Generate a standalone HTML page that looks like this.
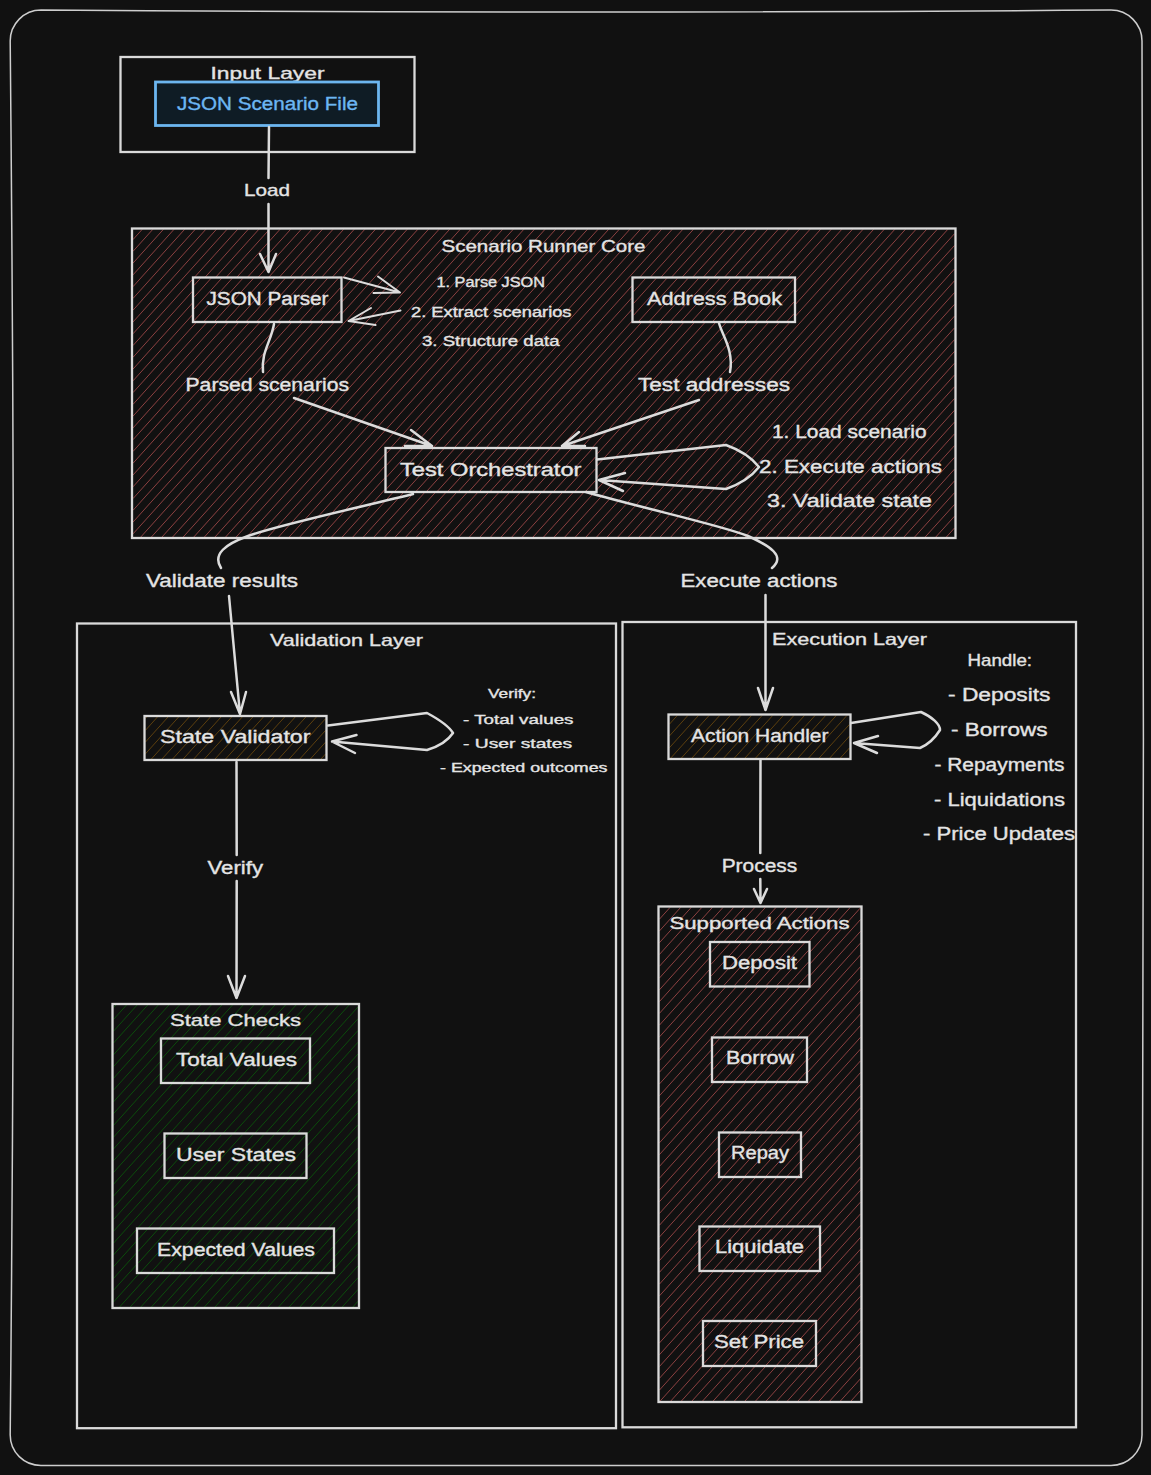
<!DOCTYPE html>
<html><head><meta charset="utf-8">
<style>
html,body{margin:0;padding:0;background:#111111;width:1151px;height:1475px;overflow:hidden}
svg{display:block}
text{font-family:"Liberation Sans",sans-serif;fill:#e4e4e4;stroke:#e4e4e4;stroke-width:0.35}
.s{fill:none;stroke:#dcdcdc;stroke-width:2.5;stroke-linecap:round;stroke-linejoin:round}
.bx{stroke:#dadada;stroke-width:2.3}
</style></head>
<body>
<svg width="1151" height="1475" viewBox="0 0 1151 1475">
<!-- outer frame -->
<path d="M41 10 Q576 14 1111 10 C1128 10 1142 24 1142 41 Q1144.8 738 1142 1435 C1142 1452 1128 1465.5 1111 1465.5 L41 1465.5 C24 1465.5 10.2 1452 10.2 1435 Q17 738 10.2 41 C10.2 24 24 10 41 10 Z" fill="none" stroke="#cecece" stroke-width="1.5"/>

<!-- Input Layer -->
<rect class="bx" x="120.5" y="57" width="294" height="95" fill="#111111"/>
<text x="210.5" y="79" font-size="17" textLength="114" lengthAdjust="spacingAndGlyphs">Input Layer</text>
<rect x="155.5" y="82" width="223" height="43.5" fill="#0f1c25" stroke="#6cb6f0" stroke-width="2.8"/>
<text x="177" y="109.5" font-size="18" textLength="181" lengthAdjust="spacingAndGlyphs" style="fill:#6cb6f2;stroke:#6cb6f2">JSON Scenario File</text>

<!-- Load edge -->
<path class="s" d="M269 127 L268.5 178"/>
<text x="244" y="196" font-size="17" textLength="46" lengthAdjust="spacingAndGlyphs">Load</text>

<!-- Scenario Runner Core -->
<rect x="132.0" y="228.5" width="823.5" height="309.5" fill="#111111"/><path d="M133.00 239.58L142.07 229.50M133.00 251.35L152.67 229.50M133.00 263.12L163.27 229.50M133.00 274.90L173.87 229.50M133.00 286.67L184.47 229.50M133.00 298.44L195.07 229.50M133.00 310.21L205.67 229.50M133.00 321.99L216.27 229.50M133.00 333.76L226.87 229.50M133.00 345.53L237.47 229.50M133.00 357.30L248.07 229.50M133.00 369.08L258.67 229.50M133.00 380.85L269.27 229.50M133.00 392.62L279.87 229.50M133.00 404.39L290.47 229.50M133.00 416.17L301.07 229.50M133.00 427.94L311.67 229.50M133.00 439.71L322.27 229.50M133.00 451.48L332.87 229.50M133.00 463.26L343.47 229.50M133.00 475.03L354.07 229.50M133.00 486.80L364.67 229.50M133.00 498.57L375.27 229.50M133.00 510.35L385.87 229.50M133.00 522.12L396.47 229.50M133.00 533.89L407.07 229.50M140.80 537.00L417.67 229.50M151.40 537.00L428.27 229.50M162.00 537.00L438.87 229.50M172.60 537.00L449.47 229.50M183.20 537.00L460.07 229.50M193.80 537.00L470.67 229.50M204.40 537.00L481.27 229.50M215.00 537.00L491.87 229.50M225.60 537.00L502.47 229.50M236.20 537.00L513.07 229.50M246.80 537.00L523.67 229.50M257.40 537.00L534.27 229.50M268.00 537.00L544.87 229.50M278.60 537.00L555.47 229.50M289.20 537.00L566.07 229.50M299.80 537.00L576.67 229.50M310.40 537.00L587.27 229.50M321.00 537.00L597.87 229.50M331.60 537.00L608.47 229.50M342.20 537.00L619.07 229.50M352.80 537.00L629.67 229.50M363.40 537.00L640.27 229.50M374.00 537.00L650.87 229.50M384.60 537.00L661.47 229.50M395.20 537.00L672.07 229.50M405.80 537.00L682.67 229.50M416.40 537.00L693.27 229.50M427.00 537.00L703.87 229.50M437.60 537.00L714.47 229.50M448.20 537.00L725.07 229.50M458.80 537.00L735.67 229.50M469.40 537.00L746.27 229.50M480.00 537.00L756.87 229.50M490.60 537.00L767.47 229.50M501.20 537.00L778.07 229.50M511.80 537.00L788.67 229.50M522.40 537.00L799.27 229.50M533.00 537.00L809.87 229.50M543.60 537.00L820.47 229.50M554.20 537.00L831.07 229.50M564.80 537.00L841.67 229.50M575.40 537.00L852.27 229.50M586.00 537.00L862.87 229.50M596.60 537.00L873.47 229.50M607.20 537.00L884.07 229.50M617.80 537.00L894.67 229.50M628.40 537.00L905.27 229.50M639.00 537.00L915.87 229.50M649.60 537.00L926.47 229.50M660.20 537.00L937.07 229.50M670.80 537.00L947.67 229.50M681.40 537.00L954.50 233.69M692.00 537.00L954.50 245.46M702.60 537.00L954.50 257.24M713.20 537.00L954.50 269.01M723.80 537.00L954.50 280.78M734.40 537.00L954.50 292.55M745.00 537.00L954.50 304.33M755.60 537.00L954.50 316.10M766.20 537.00L954.50 327.87M776.80 537.00L954.50 339.64M787.40 537.00L954.50 351.42M798.00 537.00L954.50 363.19M808.60 537.00L954.50 374.96M819.20 537.00L954.50 386.73M829.80 537.00L954.50 398.51M840.40 537.00L954.50 410.28M851.00 537.00L954.50 422.05M861.60 537.00L954.50 433.82M872.20 537.00L954.50 445.60M882.80 537.00L954.50 457.37M893.40 537.00L954.50 469.14M904.00 537.00L954.50 480.91M914.60 537.00L954.50 492.69M925.20 537.00L954.50 504.46M935.80 537.00L954.50 516.23M946.40 537.00L954.50 528.00" stroke="#8c4141" stroke-width="1.0" fill="none"/><rect class="bx" x="132" y="228.5" width="823.5" height="309.5" fill="none"/>
<path class="s" d="M268.5 204 L268.5 271 M260 254 L268.5 272 L276 254"/>
<text x="441.5" y="251.5" font-size="17" textLength="204" lengthAdjust="spacingAndGlyphs">Scenario Runner Core</text>

<rect x="193.0" y="277.5" width="148.5" height="44.5" fill="#111111"/><path d="M194.00 285.46L200.27 278.50M194.00 297.23L210.87 278.50M194.00 309.01L221.47 278.50M194.00 320.78L232.07 278.50M204.40 321.00L242.67 278.50M215.00 321.00L253.27 278.50M225.60 321.00L263.87 278.50M236.20 321.00L274.47 278.50M246.80 321.00L285.07 278.50M257.40 321.00L295.67 278.50M268.00 321.00L306.27 278.50M278.60 321.00L316.87 278.50M289.20 321.00L327.47 278.50M299.80 321.00L338.07 278.50M310.40 321.00L340.50 287.57M321.00 321.00L340.50 299.34M331.60 321.00L340.50 311.12" stroke="#8c4141" stroke-width="1.0" fill="none"/><rect class="bx" x="193" y="277.5" width="148.5" height="44.5" fill="none"/>
<text x="206.5" y="305" font-size="18" textLength="122" lengthAdjust="spacingAndGlyphs">JSON Parser</text>

<rect x="632.5" y="277.5" width="162.5" height="44.5" fill="#111111"/><path d="M633.50 280.02L634.87 278.50M633.50 291.79L645.47 278.50M633.50 303.56L656.07 278.50M633.50 315.34L666.67 278.50M639.00 321.00L677.27 278.50M649.60 321.00L687.87 278.50M660.20 321.00L698.47 278.50M670.80 321.00L709.07 278.50M681.40 321.00L719.67 278.50M692.00 321.00L730.27 278.50M702.60 321.00L740.87 278.50M713.20 321.00L751.47 278.50M723.80 321.00L762.07 278.50M734.40 321.00L772.67 278.50M745.00 321.00L783.27 278.50M755.60 321.00L793.87 278.50M766.20 321.00L794.00 290.12M776.80 321.00L794.00 301.90M787.40 321.00L794.00 313.67" stroke="#8c4141" stroke-width="1.0" fill="none"/><rect class="bx" x="632.5" y="277.5" width="162.5" height="44.5" fill="none"/>
<text x="647" y="305" font-size="18" textLength="135" lengthAdjust="spacingAndGlyphs">Address Book</text>

<text x="436.5" y="287" font-size="14" textLength="108.5" lengthAdjust="spacingAndGlyphs">1. Parse JSON</text>
<text x="411" y="316.5" font-size="14" textLength="160.5" lengthAdjust="spacingAndGlyphs">2. Extract scenarios</text>
<text x="422" y="346" font-size="14" textLength="137.5" lengthAdjust="spacingAndGlyphs">3. Structure data</text>

<path class="s" style="stroke-width:2" d="M344 277.5 L400 292.5 M378 276.5 L400 292.5 L373.5 293"/>
<path class="s" style="stroke-width:2" d="M400.5 310.5 L348.5 321 M371 308 L348.5 321 L375.5 325"/>

<!-- Parsed scenarios edge -->
<path class="s" d="M274 324 C271 342 261 352 263 372"/>
<text x="185.5" y="390.5" font-size="18" textLength="163.5" lengthAdjust="spacingAndGlyphs">Parsed scenarios</text>
<path class="s" d="M294 398 L432 446 M411 430 L432 446 L405 446"/>

<!-- Test addresses edge -->
<path class="s" d="M719 323 C722 335 734 350 730 372"/>
<text x="638" y="390.5" font-size="18" textLength="152" lengthAdjust="spacingAndGlyphs">Test addresses</text>
<path class="s" d="M699 400 L562 446 M579 432 L562 446 L585 446"/>

<!-- Test Orchestrator -->
<rect x="385.5" y="448.0" width="211.0" height="44.0" fill="#111111"/><path d="M386.50 453.57L390.62 449.00M386.50 465.34L401.22 449.00M386.50 477.12L411.82 449.00M386.50 488.89L422.42 449.00M395.20 491.00L433.02 449.00M405.80 491.00L443.62 449.00M416.40 491.00L454.22 449.00M427.00 491.00L464.82 449.00M437.60 491.00L475.42 449.00M448.20 491.00L486.02 449.00M458.80 491.00L496.62 449.00M469.40 491.00L507.22 449.00M480.00 491.00L517.82 449.00M490.60 491.00L528.42 449.00M501.20 491.00L539.02 449.00M511.80 491.00L549.62 449.00M522.40 491.00L560.22 449.00M533.00 491.00L570.82 449.00M543.60 491.00L581.42 449.00M554.20 491.00L592.02 449.00M564.80 491.00L595.50 456.90M575.40 491.00L595.50 468.68M586.00 491.00L595.50 480.45" stroke="#8c4141" stroke-width="1.0" fill="none"/><rect class="bx" x="385.5" y="448" width="211" height="44" fill="none"/>
<text x="400" y="475.5" font-size="18" textLength="181.5" lengthAdjust="spacingAndGlyphs">Test Orchestrator</text>
<path class="s" d="M597 459.5 L726 445 C740 450 752 458 759 467 C752 476 740 484 726 489 L599 480 M625 473 L599 480 L623 491"/>
<text x="772" y="437.5" font-size="18" textLength="154.5" lengthAdjust="spacingAndGlyphs">1. Load scenario</text>
<text x="759" y="473" font-size="18" textLength="183" lengthAdjust="spacingAndGlyphs">2. Execute actions</text>
<text x="767" y="507" font-size="18" textLength="165" lengthAdjust="spacingAndGlyphs">3. Validate state</text>

<!-- Validate results edge -->
<path class="s" d="M413 494 C340 512 275 526 248 536 C226 544 212 554 221 568"/>
<text x="146" y="587" font-size="18" textLength="152" lengthAdjust="spacingAndGlyphs">Validate results</text>
<path class="s" d="M229 596 L240 714 M231 692 L240 714 L246 692"/>

<!-- Execute actions edge -->
<path class="s" d="M586 492 C650 510 720 525 748 536 C770 546 786 556 772 568"/>
<text x="680.5" y="587" font-size="18" textLength="157" lengthAdjust="spacingAndGlyphs">Execute actions</text>
<path class="s" d="M765.5 595 L765.5 710 M758 688 L765.5 710 L773 688"/>

<!-- Validation Layer -->
<rect class="bx" x="77" y="623.5" width="539" height="804.7" fill="none"/>
<text x="270" y="646" font-size="17" textLength="153" lengthAdjust="spacingAndGlyphs">Validation Layer</text>

<rect x="144.5" y="716.0" width="182.0" height="44.0" fill="#111111"/><path d="M145.50 718.46L146.82 717.00M145.50 730.24L157.42 717.00M145.50 742.01L168.02 717.00M145.50 753.78L178.62 717.00M151.40 759.00L189.22 717.00M162.00 759.00L199.82 717.00M172.60 759.00L210.42 717.00M183.20 759.00L221.02 717.00M193.80 759.00L231.62 717.00M204.40 759.00L242.22 717.00M215.00 759.00L252.82 717.00M225.60 759.00L263.42 717.00M236.20 759.00L274.02 717.00M246.80 759.00L284.62 717.00M257.40 759.00L295.22 717.00M268.00 759.00L305.82 717.00M278.60 759.00L316.42 717.00M289.20 759.00L325.50 718.68M299.80 759.00L325.50 730.46M310.40 759.00L325.50 742.23M321.00 759.00L325.50 754.00" stroke="#5c3f0e" stroke-width="1.0" fill="none"/><rect class="bx" x="144.5" y="716" width="182" height="44" fill="none"/>
<text x="160" y="743" font-size="18" textLength="150.5" lengthAdjust="spacingAndGlyphs">State Validator</text>
<path class="s" d="M328 725.5 L427 713 C440 720 450 728 453 733 C447 742 437 747 427 750 L332 741.5 M356.5 735 L332 741.5 L355 753"/>
<text x="488" y="698" font-size="13" textLength="48" lengthAdjust="spacingAndGlyphs">Verify:</text>
<text x="463" y="723.5" font-size="13" textLength="110.5" lengthAdjust="spacingAndGlyphs">- Total values</text>
<text x="463" y="747.5" font-size="13" textLength="109" lengthAdjust="spacingAndGlyphs">- User states</text>
<text x="440" y="771.5" font-size="13" textLength="167.5" lengthAdjust="spacingAndGlyphs">- Expected outcomes</text>

<path class="s" d="M236.5 762 L236.7 855"/>
<text x="207.5" y="873.5" font-size="18" textLength="55.5" lengthAdjust="spacingAndGlyphs">Verify</text>
<path class="s" d="M236.7 881 L236.5 998 M228 976 L236.5 998 L245 976"/>

<!-- State Checks -->
<rect x="112.5" y="1004.0" width="246.5" height="304.0" fill="#111111"/><path d="M113.50 1007.69L115.92 1005.00M113.50 1019.46L126.52 1005.00M113.50 1031.23L137.12 1005.00M113.50 1043.01L147.72 1005.00M113.50 1054.78L158.32 1005.00M113.50 1066.55L168.92 1005.00M113.50 1078.32L179.52 1005.00M113.50 1090.10L190.12 1005.00M113.50 1101.87L200.72 1005.00M113.50 1113.64L211.32 1005.00M113.50 1125.41L221.92 1005.00M113.50 1137.19L232.52 1005.00M113.50 1148.96L243.12 1005.00M113.50 1160.73L253.72 1005.00M113.50 1172.50L264.32 1005.00M113.50 1184.28L274.92 1005.00M113.50 1196.05L285.52 1005.00M113.50 1207.82L296.12 1005.00M113.50 1219.59L306.72 1005.00M113.50 1231.37L317.32 1005.00M113.50 1243.14L327.92 1005.00M113.50 1254.91L338.52 1005.00M113.50 1266.68L349.12 1005.00M113.50 1278.46L358.00 1006.91M113.50 1290.23L358.00 1018.68M113.50 1302.00L358.00 1030.46M119.60 1307.00L358.00 1042.23M130.20 1307.00L358.00 1054.00M140.80 1307.00L358.00 1065.77M151.40 1307.00L358.00 1077.55M162.00 1307.00L358.00 1089.32M172.60 1307.00L358.00 1101.09M183.20 1307.00L358.00 1112.86M193.80 1307.00L358.00 1124.64M204.40 1307.00L358.00 1136.41M215.00 1307.00L358.00 1148.18M225.60 1307.00L358.00 1159.95M236.20 1307.00L358.00 1171.73M246.80 1307.00L358.00 1183.50M257.40 1307.00L358.00 1195.27M268.00 1307.00L358.00 1207.04M278.60 1307.00L358.00 1218.82M289.20 1307.00L358.00 1230.59M299.80 1307.00L358.00 1242.36M310.40 1307.00L358.00 1254.13M321.00 1307.00L358.00 1265.91M331.60 1307.00L358.00 1277.68M342.20 1307.00L358.00 1289.45M352.80 1307.00L358.00 1301.22" stroke="#0c4c0c" stroke-width="1.0" fill="none"/><rect class="bx" x="112.5" y="1004" width="246.5" height="304" fill="none"/>
<text x="170" y="1026" font-size="17" textLength="131" lengthAdjust="spacingAndGlyphs">State Checks</text>
<rect x="161.0" y="1038.5" width="149.0" height="44.5" fill="#111111"/><path d="M162.00 1046.68L168.47 1039.50M162.00 1058.46L179.07 1039.50M162.00 1070.23L189.67 1039.50M162.00 1082.00L200.27 1039.50M172.60 1082.00L210.87 1039.50M183.20 1082.00L221.47 1039.50M193.80 1082.00L232.07 1039.50M204.40 1082.00L242.67 1039.50M215.00 1082.00L253.27 1039.50M225.60 1082.00L263.87 1039.50M236.20 1082.00L274.47 1039.50M246.80 1082.00L285.07 1039.50M257.40 1082.00L295.67 1039.50M268.00 1082.00L306.27 1039.50M278.60 1082.00L309.00 1048.24M289.20 1082.00L309.00 1060.01M299.80 1082.00L309.00 1071.78" stroke="#0c4c0c" stroke-width="1.0" fill="none"/><rect class="bx" x="161" y="1038.5" width="149" height="44.5" fill="none"/>
<text x="176" y="1066" font-size="18" textLength="121" lengthAdjust="spacingAndGlyphs">Total Values</text>
<rect x="164.5" y="1133.5" width="142.0" height="44.5" fill="#111111"/><path d="M165.50 1137.80L168.47 1134.50M165.50 1149.57L179.07 1134.50M165.50 1161.34L189.67 1134.50M165.50 1173.11L200.27 1134.50M172.60 1177.00L210.87 1134.50M183.20 1177.00L221.47 1134.50M193.80 1177.00L232.07 1134.50M204.40 1177.00L242.67 1134.50M215.00 1177.00L253.27 1134.50M225.60 1177.00L263.87 1134.50M236.20 1177.00L274.47 1134.50M246.80 1177.00L285.07 1134.50M257.40 1177.00L295.67 1134.50M268.00 1177.00L305.50 1135.35M278.60 1177.00L305.50 1147.12M289.20 1177.00L305.50 1158.90M299.80 1177.00L305.50 1170.67" stroke="#0c4c0c" stroke-width="1.0" fill="none"/><rect class="bx" x="164.5" y="1133.5" width="142" height="44.5" fill="none"/>
<text x="176" y="1161" font-size="18" textLength="120" lengthAdjust="spacingAndGlyphs">User States</text>
<rect x="137.0" y="1228.5" width="197.0" height="44.5" fill="#111111"/><path d="M138.00 1239.79L147.27 1229.50M138.00 1251.56L157.87 1229.50M138.00 1263.34L168.47 1229.50M140.80 1272.00L179.07 1229.50M151.40 1272.00L189.67 1229.50M162.00 1272.00L200.27 1229.50M172.60 1272.00L210.87 1229.50M183.20 1272.00L221.47 1229.50M193.80 1272.00L232.07 1229.50M204.40 1272.00L242.67 1229.50M215.00 1272.00L253.27 1229.50M225.60 1272.00L263.87 1229.50M236.20 1272.00L274.47 1229.50M246.80 1272.00L285.07 1229.50M257.40 1272.00L295.67 1229.50M268.00 1272.00L306.27 1229.50M278.60 1272.00L316.87 1229.50M289.20 1272.00L327.47 1229.50M299.80 1272.00L333.00 1235.13M310.40 1272.00L333.00 1246.90M321.00 1272.00L333.00 1258.67M331.60 1272.00L333.00 1270.45" stroke="#0c4c0c" stroke-width="1.0" fill="none"/><rect class="bx" x="137" y="1228.5" width="197" height="44.5" fill="none"/>
<text x="157" y="1256" font-size="18" textLength="158" lengthAdjust="spacingAndGlyphs">Expected Values</text>

<!-- Execution Layer -->
<rect class="bx" x="622.5" y="622" width="453.5" height="805.3" fill="none"/>
<text x="772" y="644.5" font-size="17" textLength="155" lengthAdjust="spacingAndGlyphs">Execution Layer</text>

<rect x="668.5" y="714.5" width="182.0" height="44.5" fill="#111111"/><path d="M669.50 724.13L677.27 715.50M669.50 735.90L687.87 715.50M669.50 747.67L698.47 715.50M670.80 758.00L709.07 715.50M681.40 758.00L719.67 715.50M692.00 758.00L730.27 715.50M702.60 758.00L740.87 715.50M713.20 758.00L751.47 715.50M723.80 758.00L762.07 715.50M734.40 758.00L772.67 715.50M745.00 758.00L783.27 715.50M755.60 758.00L793.87 715.50M766.20 758.00L804.47 715.50M776.80 758.00L815.07 715.50M787.40 758.00L825.67 715.50M798.00 758.00L836.27 715.50M808.60 758.00L846.87 715.50M819.20 758.00L849.50 724.35M829.80 758.00L849.50 736.12M840.40 758.00L849.50 747.89" stroke="#5c3f0e" stroke-width="1.0" fill="none"/><rect class="bx" x="668.5" y="714.5" width="182" height="44.5" fill="none"/>
<text x="691" y="742" font-size="18" textLength="137.5" lengthAdjust="spacingAndGlyphs">Action Handler</text>
<path class="s" d="M851 723 L921 712 C932 717 940 724 940 730 C935 738 927 745 920 748 L854 743 M878 736 L854 743 L877 753"/>

<text x="967.5" y="665.5" font-size="17" textLength="64.5" lengthAdjust="spacingAndGlyphs">Handle:</text>
<text x="948" y="700.5" font-size="18" textLength="102.5" lengthAdjust="spacingAndGlyphs">- Deposits</text>
<text x="951" y="735.5" font-size="18" textLength="96.5" lengthAdjust="spacingAndGlyphs">- Borrows</text>
<text x="934.5" y="770.5" font-size="18" textLength="130" lengthAdjust="spacingAndGlyphs">- Repayments</text>
<text x="934" y="805.5" font-size="18" textLength="131" lengthAdjust="spacingAndGlyphs">- Liquidations</text>
<text x="923" y="840" font-size="18" textLength="152" lengthAdjust="spacingAndGlyphs">- Price Updates</text>

<path class="s" d="M760.5 760 L760.3 853"/>
<text x="721.7" y="872" font-size="18" textLength="75.5" lengthAdjust="spacingAndGlyphs">Process</text>
<path class="s" d="M760.3 879 L760.5 903 M754 889 L760.5 903 L767 889"/>

<!-- Supported Actions -->
<rect x="658.5" y="906.5" width="203.0" height="495.5" fill="#111111"/><path d="M659.50 919.11L669.95 907.50M659.50 930.88L680.55 907.50M659.50 942.65L691.15 907.50M659.50 954.42L701.75 907.50M659.50 966.20L712.35 907.50M659.50 977.97L722.95 907.50M659.50 989.74L733.55 907.50M659.50 1001.51L744.15 907.50M659.50 1013.29L754.75 907.50M659.50 1025.06L765.35 907.50M659.50 1036.83L775.95 907.50M659.50 1048.60L786.55 907.50M659.50 1060.38L797.15 907.50M659.50 1072.15L807.75 907.50M659.50 1083.92L818.35 907.50M659.50 1095.69L828.95 907.50M659.50 1107.47L839.55 907.50M659.50 1119.24L850.15 907.50M659.50 1131.01L860.50 907.78M659.50 1142.78L860.50 919.55M659.50 1154.56L860.50 931.32M659.50 1166.33L860.50 943.09M659.50 1178.10L860.50 954.87M659.50 1189.87L860.50 966.64M659.50 1201.65L860.50 978.41M659.50 1213.42L860.50 990.18M659.50 1225.19L860.50 1001.96M659.50 1236.96L860.50 1013.73M659.50 1248.74L860.50 1025.50M659.50 1260.51L860.50 1037.27M659.50 1272.28L860.50 1049.05M659.50 1284.05L860.50 1060.82M659.50 1295.82L860.50 1072.59M659.50 1307.60L860.50 1084.36M659.50 1319.37L860.50 1096.14M659.50 1331.14L860.50 1107.91M659.50 1342.91L860.50 1119.68M659.50 1354.69L860.50 1131.45M659.50 1366.46L860.50 1143.23M659.50 1378.23L860.50 1155.00M659.50 1390.00L860.50 1166.77M660.20 1401.00L860.50 1178.54M670.80 1401.00L860.50 1190.32M681.40 1401.00L860.50 1202.09M692.00 1401.00L860.50 1213.86M702.60 1401.00L860.50 1225.63M713.20 1401.00L860.50 1237.41M723.80 1401.00L860.50 1249.18M734.40 1401.00L860.50 1260.95M745.00 1401.00L860.50 1272.72M755.60 1401.00L860.50 1284.50M766.20 1401.00L860.50 1296.27M776.80 1401.00L860.50 1308.04M787.40 1401.00L860.50 1319.81M798.00 1401.00L860.50 1331.59M808.60 1401.00L860.50 1343.36M819.20 1401.00L860.50 1355.13M829.80 1401.00L860.50 1366.90M840.40 1401.00L860.50 1378.68M851.00 1401.00L860.50 1390.45" stroke="#8c4141" stroke-width="1.0" fill="none"/><rect class="bx" x="658.5" y="906.5" width="203" height="495.5" fill="none"/>
<text x="669.5" y="929" font-size="17" textLength="180" lengthAdjust="spacingAndGlyphs">Supported Actions</text>
<rect x="710.0" y="942.0" width="99.5" height="44.5" fill="#111111"/><path d="M711.00 952.63L719.67 943.00M711.00 964.40L730.27 943.00M711.00 976.17L740.87 943.00M713.20 985.50L751.47 943.00M723.80 985.50L762.07 943.00M734.40 985.50L772.67 943.00M745.00 985.50L783.27 943.00M755.60 985.50L793.87 943.00M766.20 985.50L804.47 943.00M776.80 985.50L808.50 950.29M787.40 985.50L808.50 962.07M798.00 985.50L808.50 973.84" stroke="#8c4141" stroke-width="1.0" fill="none"/><rect class="bx" x="710" y="942" width="99.5" height="44.5" fill="none"/>
<text x="722" y="969" font-size="18" textLength="75" lengthAdjust="spacingAndGlyphs">Deposit</text>
<rect x="712.0" y="1037.5" width="95.0" height="44.5" fill="#111111"/><path d="M713.00 1045.90L719.67 1038.50M713.00 1057.68L730.27 1038.50M713.00 1069.45L740.87 1038.50M713.20 1081.00L751.47 1038.50M723.80 1081.00L762.07 1038.50M734.40 1081.00L772.67 1038.50M745.00 1081.00L783.27 1038.50M755.60 1081.00L793.87 1038.50M766.20 1081.00L804.47 1038.50M776.80 1081.00L806.00 1048.57M787.40 1081.00L806.00 1060.34M798.00 1081.00L806.00 1072.12" stroke="#8c4141" stroke-width="1.0" fill="none"/><rect class="bx" x="712" y="1037.5" width="95" height="44.5" fill="none"/>
<text x="726" y="1064" font-size="18" textLength="68" lengthAdjust="spacingAndGlyphs">Borrow</text>
<rect x="719.0" y="1132.5" width="82.0" height="44.5" fill="#111111"/><path d="M720.00 1144.90L730.27 1133.50M720.00 1156.68L740.87 1133.50M720.00 1168.45L751.47 1133.50M723.80 1176.00L762.07 1133.50M734.40 1176.00L772.67 1133.50M745.00 1176.00L783.27 1133.50M755.60 1176.00L793.87 1133.50M766.20 1176.00L800.00 1138.46M776.80 1176.00L800.00 1150.23M787.40 1176.00L800.00 1162.01M798.00 1176.00L800.00 1173.78" stroke="#8c4141" stroke-width="1.0" fill="none"/><rect class="bx" x="719" y="1132.5" width="82" height="44.5" fill="none"/>
<text x="731" y="1159" font-size="18" textLength="58" lengthAdjust="spacingAndGlyphs">Repay</text>
<rect x="699.5" y="1226.5" width="120.5" height="44.5" fill="#111111"/><path d="M700.50 1237.01L709.07 1227.50M700.50 1248.79L719.67 1227.50M700.50 1260.56L730.27 1227.50M702.60 1270.00L740.87 1227.50M713.20 1270.00L751.47 1227.50M723.80 1270.00L762.07 1227.50M734.40 1270.00L772.67 1227.50M745.00 1270.00L783.27 1227.50M755.60 1270.00L793.87 1227.50M766.20 1270.00L804.47 1227.50M776.80 1270.00L815.07 1227.50M787.40 1270.00L819.00 1234.90M798.00 1270.00L819.00 1246.68M808.60 1270.00L819.00 1258.45" stroke="#8c4141" stroke-width="1.0" fill="none"/><rect class="bx" x="699.5" y="1226.5" width="120.5" height="44.5" fill="none"/>
<text x="715" y="1253" font-size="18" textLength="89" lengthAdjust="spacingAndGlyphs">Liquidate</text>
<rect x="703.0" y="1321.0" width="113.0" height="45.0" fill="#111111"/><path d="M704.00 1328.13L709.52 1322.00M704.00 1339.90L720.12 1322.00M704.00 1351.67L730.72 1322.00M704.00 1363.45L741.32 1322.00M713.20 1365.00L751.92 1322.00M723.80 1365.00L762.52 1322.00M734.40 1365.00L773.12 1322.00M745.00 1365.00L783.72 1322.00M755.60 1365.00L794.32 1322.00M766.20 1365.00L804.92 1322.00M776.80 1365.00L815.00 1322.57M787.40 1365.00L815.00 1334.35M798.00 1365.00L815.00 1346.12M808.60 1365.00L815.00 1357.89" stroke="#8c4141" stroke-width="1.0" fill="none"/><rect class="bx" x="703" y="1321" width="113" height="45" fill="none"/>
<text x="714" y="1348" font-size="18" textLength="90" lengthAdjust="spacingAndGlyphs">Set Price</text>

</svg>
</body></html>
